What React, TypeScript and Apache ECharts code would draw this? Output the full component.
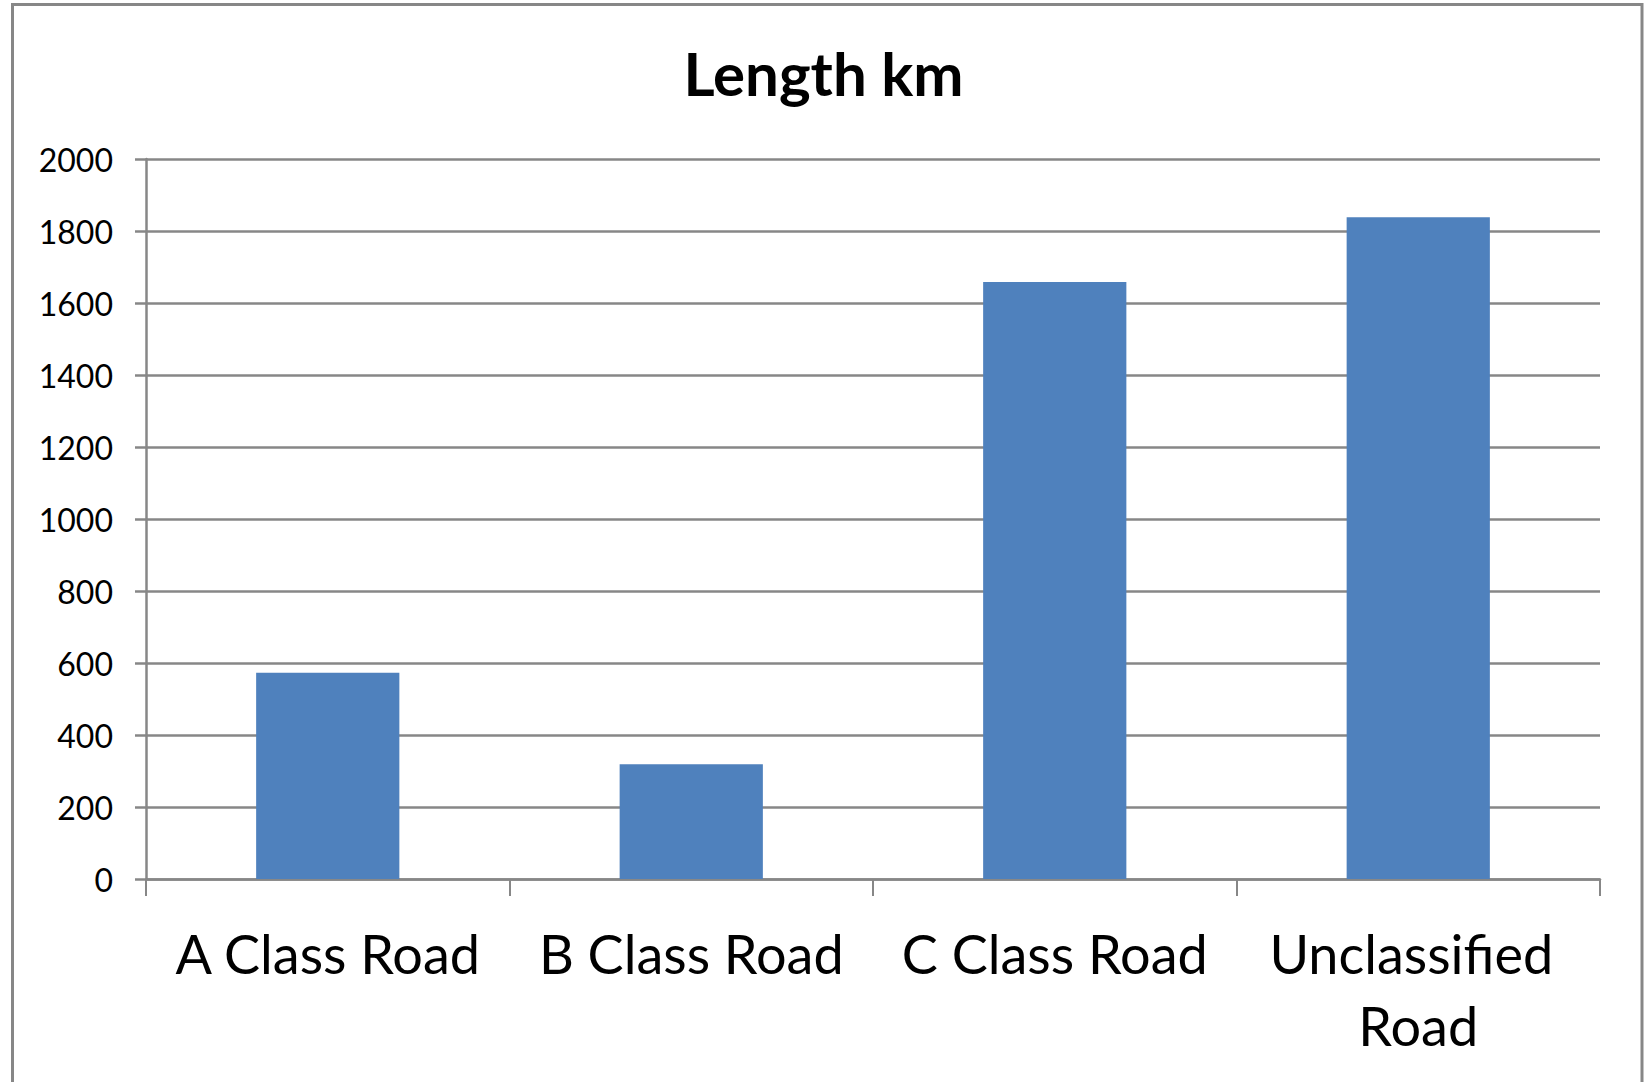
import React, { useEffect, useRef } from "react";
import * as echarts from "echarts";

const titleText = "Length km";
const categories = ["A Class Road", "B Class Road", "C Class Road", "Unclassified Road"];
const lengthKm = [573, 319, 1658, 1838];
const yMin = 0;
const yMax = 2000;
const yInterval = 200;

const GRAY = "#878787";
const FONT = "Lato";

export default function App() {
  const ref = useRef<HTMLDivElement>(null);
  useEffect(() => {
    if (!ref.current) return;
    const chart = echarts.init(ref.current, null, { renderer: "svg" });
    chart.setOption({
      animation: false,
      backgroundColor: "#ffffff",
      title: {
        text: titleText,
        left: "center",
        top: 38,
        textStyle: { fontFamily: FONT, fontSize: 60, fontWeight: "bold", color: "#000" },
      },
      graphic: [
        {
          type: "rect",
          z: -1,
          shape: { x: 12.5, y: 4.5, width: 1629.5, height: 1200 },
          style: { fill: "none", stroke: GRAY, lineWidth: 3 },
        },
      ],
      grid: { left: 146, right: 47, top: 159, bottom: 203, containLabel: false },
      xAxis: {
        type: "category",
        data: categories,
        axisLine: { show: true, lineStyle: { color: GRAY, width: 2.5 } },
        axisTick: { show: true, length: 17, lineStyle: { color: GRAY, width: 2 } },
        axisLabel: {
          margin: 38,
          fontFamily: FONT,
          fontSize: 54,
          lineHeight: 72,
          color: "#000",
          width: 350,
          overflow: "break",
          interval: 0,
        },
      },
      yAxis: {
        type: "value",
        min: yMin,
        max: yMax,
        interval: yInterval,
        axisLine: { show: true, lineStyle: { color: GRAY, width: 2.5 } },
        axisTick: { show: true, length: 11, lineStyle: { color: GRAY, width: 2.5 } },
        splitLine: { show: true, lineStyle: { color: GRAY, width: 2.5 } },
        axisLabel: {
          margin: 33,
          fontFamily: FONT,
          fontSize: 32,
          color: "#000",
          formatter: (v: number) => String(v),
        },
      },
      series: [
        {
          type: "bar",
          data: lengthKm,
          barWidth: "39.4%",
          itemStyle: { color: "#4F81BD" },
        },
      ],
    });
    return () => chart.dispose();
  }, []);
  return (
    <div
      ref={ref}
      style={{ position: "absolute", left: 0, top: 0, width: 1647, height: 1082, background: "#fff" }}
    />
  );
}
